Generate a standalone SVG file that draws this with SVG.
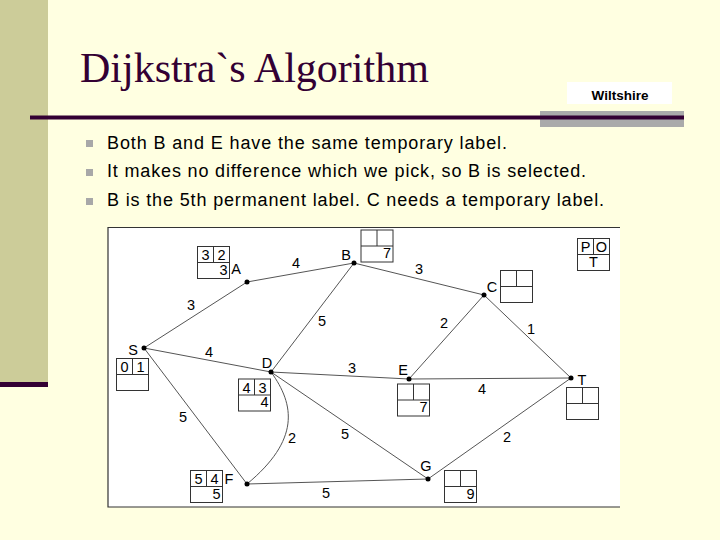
<svg xmlns="http://www.w3.org/2000/svg" width="720" height="540" viewBox="0 0 720 540">
<style>
.bul{font-family:"Liberation Sans",Arial,sans-serif;font-size:18px;fill:#000}
.lbl{font-family:"Liberation Sans",Arial,sans-serif;font-size:14.5px;fill:#000;text-anchor:middle}
.edge{stroke:#555;stroke-width:1;fill:none}
.dot{fill:#000}
</style>
<defs>
<g id="bx" stroke="#333" stroke-width="1"><rect x="0" y="0" width="32" height="32" fill="#fff"/><line x1="16" y1="0" x2="16" y2="16"/><line x1="0" y1="16" x2="32" y2="16"/></g>
</defs>
<rect x="0" y="0" width="720" height="540" fill="#FFFFE1"/>
<rect x="0" y="0" width="48" height="382" fill="#CCCC99"/>
<rect x="0" y="382" width="48" height="5" fill="#330033"/>
<text x="80" y="82" font-family="'Liberation Serif','Times New Roman',serif" font-size="42" fill="#330033">Dijkstra`s Algorithm</text>
<rect x="567" y="82" width="105" height="22" fill="#FFFFFF"/>
<text x="620" y="100" font-family="'Liberation Sans',Arial,sans-serif" font-size="13.5" font-weight="bold" text-anchor="middle" fill="#000">Wiltshire</text>
<rect x="540" y="111" width="144" height="16" fill="#AAAAAA"/>
<rect x="30" y="115.5" width="654" height="4" fill="#330033"/>
<g fill="#A8A8A8">
<rect x="86" y="140" width="7" height="7"/>
<rect x="86" y="169" width="7" height="7"/>
<rect x="86" y="198" width="7" height="7"/>
</g>
<text class="bul" x="107" y="148.5" textLength="400" lengthAdjust="spacing">Both B and E have the same temporary label.</text>
<text class="bul" x="107" y="177" textLength="479" lengthAdjust="spacing">It makes no difference which we pick, so B is selected.</text>
<text class="bul" x="107" y="205.5" textLength="497" lengthAdjust="spacing">B is the 5th permanent label. C needs a temporary label.</text>
<rect x="108" y="227.5" width="512" height="279.5" fill="#FFFFFF"/>
<path d="M620,227.5 H108 V507 H620" stroke="#333" stroke-width="1.2" fill="none"/>
<g id="connectors">
<line class="edge" x1="144" y1="348" x2="247" y2="282"/>
<line class="edge" x1="247" y1="282" x2="354" y2="263"/>
<line class="edge" x1="144" y1="348" x2="271" y2="372"/>
<line class="edge" x1="144" y1="348" x2="247" y2="484"/>
<line class="edge" x1="354" y1="263" x2="271" y2="372"/>
<line class="edge" x1="354" y1="263" x2="484" y2="295"/>
<line class="edge" x1="484" y1="295" x2="409" y2="379"/>
<line class="edge" x1="484" y1="295" x2="571" y2="378"/>
<line class="edge" x1="271" y1="372" x2="409" y2="379"/>
<line class="edge" x1="409" y1="379" x2="571" y2="378"/>
<line class="edge" x1="271" y1="372" x2="428" y2="479"/>
<line class="edge" x1="247" y1="484" x2="428" y2="479"/>
<line class="edge" x1="428" y1="479" x2="571" y2="378"/>
<path class="edge" d="M271,372 C295,405 300,440 247,484"/>
<g class="lbl">
<text x="191" y="310">3</text>
<text x="296" y="268">4</text>
<text x="322" y="326">5</text>
<text x="209" y="357">4</text>
<text x="352" y="373">3</text>
<text x="419" y="274">3</text>
<text x="444" y="328">2</text>
<text x="531" y="334">1</text>
<text x="482" y="394">4</text>
<text x="507" y="442">2</text>
<text x="345" y="439">5</text>
<text x="183" y="422">5</text>
<text x="292" y="443">2</text>
<text x="326" y="498">5</text>
</g>
</g>
<g id="node-S"><circle class="dot" cx="144" cy="348" r="2.5"/><text class="lbl" x="133" y="354.5">S</text>
<g transform="translate(116.5,358.5)"><use href="#bx"/><text class="lbl" x="8" y="13.5">0</text><text class="lbl" x="24" y="13.5">1</text></g></g>
<g id="node-A"><circle class="dot" cx="247" cy="282" r="2.5"/><text class="lbl" x="236" y="273.5">A</text>
<g transform="translate(197.5,246.5)"><use href="#bx"/><text class="lbl" x="8" y="13.5">3</text><text class="lbl" x="24" y="13.5">2</text><text class="lbl" x="26" y="28">3</text></g></g>
<g id="node-B"><circle class="dot" cx="354" cy="263" r="2.5"/><text class="lbl" x="346" y="259.5">B</text>
<g transform="translate(361,230)"><use href="#bx"/><text class="lbl" x="26" y="28">7</text></g></g>
<g id="node-C"><circle class="dot" cx="484" cy="295" r="2.5"/><text class="lbl" x="492" y="291.5">C</text>
<g transform="translate(500.5,270.5)"><use href="#bx"/></g></g>
<g id="node-D"><circle class="dot" cx="271" cy="372" r="2.5"/><text class="lbl" x="267" y="367.5">D</text>
<g transform="translate(238.5,379)"><use href="#bx"/><text class="lbl" x="8" y="13.5">4</text><text class="lbl" x="24" y="13.5">3</text><text class="lbl" x="26" y="28">4</text></g></g>
<g id="node-E"><circle class="dot" cx="409" cy="379" r="2.5"/><text class="lbl" x="403" y="374.5">E</text>
<g transform="translate(397.5,384)"><use href="#bx"/><text class="lbl" x="26" y="28">7</text></g></g>
<g id="node-T"><circle class="dot" cx="571" cy="378" r="2.5"/><text class="lbl" x="582" y="384.5">T</text>
<g transform="translate(566.5,387.5)"><use href="#bx"/></g></g>
<g id="node-G"><circle class="dot" cx="428" cy="479" r="2.5"/><text class="lbl" x="426" y="470.5">G</text>
<g transform="translate(444.5,470.5)"><use href="#bx"/><text class="lbl" x="26" y="28">9</text></g></g>
<g id="node-F"><circle class="dot" cx="247" cy="484" r="2.5"/><text class="lbl" x="229" y="483.5">F</text>
<g transform="translate(190.5,470.5)"><use href="#bx"/><text class="lbl" x="8" y="13.5">5</text><text class="lbl" x="24" y="13.5">4</text><text class="lbl" x="26" y="28">5</text></g></g>
<g id="legend-POT"><g transform="translate(577.5,238.5)"><use href="#bx"/><text class="lbl" x="8" y="13.5">P</text><text class="lbl" x="24" y="13.5">O</text><text class="lbl" x="16" y="28">T</text></g></g>
</svg>
